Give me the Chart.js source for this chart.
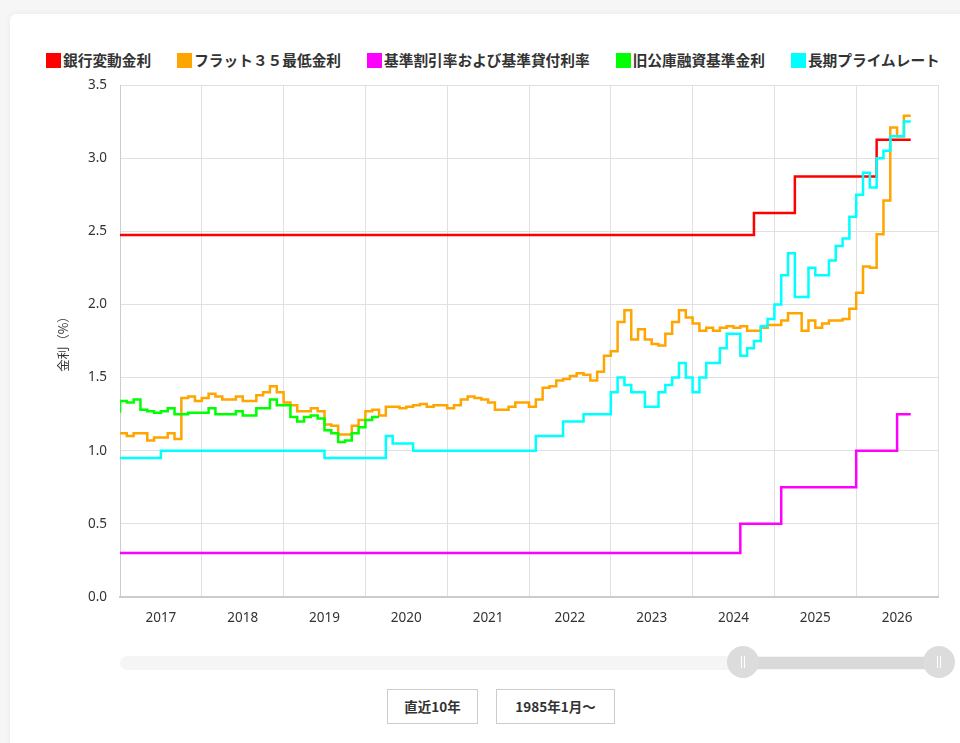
<!DOCTYPE html>
<html lang="ja">

<head>
  <meta charset="UTF-8">
  <title>金利推移</title>
  <style>
    body {
      margin: 0;
      background: #f6f6f6;
      font-family: "Noto Sans", "Noto Sans CJK JP", sans-serif;
      color: #333;
      overflow: hidden;
    }

    .card {
      position: absolute;
      left: 10px;
      top: 14px;
      width: 980px;
      height: 760px;
      background: #fff;
      border-radius: 6px;
      box-shadow: 0 0 6px rgba(0, 0, 0, 0.06);
    }

    #grafico {
      position: absolute;
      left: 0;
      top: 0;
    }

    .legenda {
      position: absolute;
      left: 46px;
      top: 50px;
      display: flex;
      gap: 26px;
      font-family: "Noto Sans CJK JP", sans-serif;
      font-weight: bold;
      font-size: 14.7px;
      line-height: 20px;
      white-space: nowrap;
    }

    .legenda span.caixa {
      display: inline-block;
      width: 15px;
      height: 15px;
      margin-right: 2px;
      vertical-align: -2px;
    }

    .navegador {
      position: absolute;
      left: 120px;
      top: 656px;
      width: 820px;
      height: 14px;
      background: #f5f5f5;
      border-radius: 7px;
    }

    .faixa {
      position: absolute;
      left: 743px;
      top: 657px;
      width: 196px;
      height: 12px;
      background: #d9d9d9;
    }

    .alca {
      position: absolute;
      top: 646px;
      width: 32px;
      height: 32px;
      border-radius: 50%;
      background: #dcdcdc;
    }

    .alca::before,
    .alca::after {
      content: "";
      position: absolute;
      top: 10px;
      width: 1px;
      height: 12px;
      background: #fff;
    }

    .alca::before { left: 14px; }
    .alca::after { left: 17px; }

    .botao {
      position: absolute;
      top: 689px;
      height: 33px;
      border: 1px solid #ccc;
      background: #fff;
      font-family: "Noto Sans CJK JP", sans-serif;
      font-weight: bold;
      font-size: 13.5px;
      line-height: 33px;
      text-align: center;
      color: #333;
    }
  </style>
</head>

<body>
  <div class="card"></div>
  <div class="legenda" id="legenda"></div>
  <canvas id="grafico" width="960" height="640"></canvas>

  <div class="navegador"></div>
  <div class="faixa"></div>
  <div class="alca" style="left: 727px;"></div>
  <div class="alca" style="left: 923px;"></div>

  <div class="botao" style="left: 387px; width: 89px;">直近10年</div>
  <div class="botao" style="left: 496px; width: 117px;">1985年1月〜</div>

  <script src="https://cdn.jsdelivr.net/npm/chart.js"></script>
  <script>
    // meses contados a partir de jan/2017
    const anos = ["2017", "2018", "2019", "2020", "2021", "2022", "2023", "2024", "2025", "2026"];
    const mesFinal = 116;

    const nomes = ["銀行変動金利", "フラット３５最低金利", "基準割引率および基準貸付利率", "旧公庫融資基準金利", "長期プライムレート"];
    const cores = ["#ff0000", "#ffa500", "#ff00ff", "#00ff00", "#00ffff"];

    // 銀行変動金利 (mudancas)
    const bancoMeses = [0, 93, 99, 111];
    const bancoTaxas = [2.475, 2.625, 2.875, 3.125];

    // 基準割引率 (mudancas)
    const bojMeses = [0, 91, 97, 108, 114];
    const bojTaxas = [0.3, 0.5, 0.75, 1.0, 1.25];

    // フラット35 mensal
    const flat35 = [
      1.12, 1.10, 1.12, 1.12, 1.07, 1.09, 1.09, 1.12, 1.08, 1.36, 1.37, 1.34,
      1.36, 1.39, 1.37, 1.35, 1.35, 1.37, 1.34, 1.34, 1.38, 1.40, 1.44, 1.40,
      1.33, 1.31, 1.27, 1.27, 1.29, 1.27, 1.18, 1.17, 1.11, 1.11, 1.17, 1.21,
      1.27, 1.28, 1.24, 1.30, 1.30, 1.29, 1.30, 1.31, 1.32, 1.30, 1.31, 1.31,
      1.29, 1.31, 1.35, 1.37, 1.36, 1.35, 1.33, 1.28, 1.28, 1.30, 1.33, 1.33,
      1.30, 1.35, 1.43, 1.44, 1.48, 1.49, 1.51, 1.53, 1.52, 1.48, 1.54, 1.65,
      1.68, 1.88, 1.96, 1.76, 1.83, 1.76, 1.73, 1.72, 1.80, 1.88, 1.96, 1.91,
      1.87, 1.82, 1.84, 1.82, 1.84, 1.85, 1.84, 1.85, 1.82, 1.82, 1.84, 1.86,
      1.86, 1.89, 1.94, 1.94, 1.82, 1.89, 1.84, 1.87, 1.89, 1.89, 1.90, 1.97,
      2.08, 2.26, 2.25, 2.48, 2.71, 3.21, 3.15, 3.29
    ];

    // 旧公庫 mensal (termina em 2020)
    const koukoInicio = 1.26;
    const kouko = [
      1.34, 1.33, 1.35, 1.28, 1.27, 1.26, 1.27, 1.29, 1.25, 1.25, 1.26, 1.26,
      1.26, 1.29, 1.25, 1.25, 1.25, 1.27, 1.24, 1.24, 1.29, 1.29, 1.35, 1.31,
      1.31, 1.23, 1.20, 1.23, 1.24, 1.22, 1.14, 1.12, 1.06, 1.07, 1.12, 1.16,
      1.21, 1.23
    ];

    // 長期プライムレート mensal
    const longPrime = [
      0.95, 0.95, 0.95, 0.95, 0.95, 0.95, 1.00, 1.00, 1.00, 1.00, 1.00, 1.00,
      1.00, 1.00, 1.00, 1.00, 1.00, 1.00, 1.00, 1.00, 1.00, 1.00, 1.00, 1.00,
      1.00, 1.00, 1.00, 1.00, 1.00, 1.00, 0.95, 0.95, 0.95, 0.95, 0.95, 0.95,
      0.95, 0.95, 0.95, 1.10, 1.05, 1.05, 1.05, 1.00, 1.00, 1.00, 1.00, 1.00,
      1.00, 1.00, 1.00, 1.00, 1.00, 1.00, 1.00, 1.00, 1.00, 1.00, 1.00, 1.00,
      1.00, 1.10, 1.10, 1.10, 1.10, 1.20, 1.20, 1.20, 1.25, 1.25, 1.25, 1.25,
      1.40, 1.50, 1.45, 1.40, 1.40, 1.30, 1.30, 1.40, 1.45, 1.50, 1.60, 1.50,
      1.40, 1.50, 1.60, 1.60, 1.70, 1.80, 1.80, 1.65, 1.70, 1.75, 1.85, 1.90,
      2.00, 2.20, 2.35, 2.05, 2.05, 2.25, 2.20, 2.20, 2.30, 2.40, 2.45, 2.60,
      2.75, 2.90, 2.80, 3.00, 3.05, 3.15, 3.15, 3.25
    ];

    function pontosMudanca(meses, taxas) {
      const pts = meses.map((m, i) => ({ x: m, y: taxas[i] }));
      pts.push({ x: mesFinal, y: taxas[taxas.length - 1] });
      return pts;
    }

    function pontosMensais(taxas, inicio) {
      const pts = [];
      if (inicio !== undefined) pts.push({ x: 0, y: inicio });
      taxas.forEach((t, m) => pts.push({ x: m, y: t }));
      pts.push({ x: taxas.length, y: taxas[taxas.length - 1] });
      return pts;
    }

    const series = [
      pontosMudanca(bancoMeses, bancoTaxas),
      pontosMensais(flat35),
      pontosMudanca(bojMeses, bojTaxas),
      pontosMensais(kouko, koukoInicio),
      pontosMensais(longPrime)
    ];

    // legenda em html
    const legenda = document.getElementById("legenda");
    nomes.forEach((nome, i) => {
      const item = document.createElement("div");
      item.innerHTML = `<span class="caixa" style="background:${cores[i]}"></span>${nome}`;
      legenda.appendChild(item);
    });

    const fonte = "'Noto Sans', 'Noto Sans CJK JP', sans-serif";

    new Chart(document.getElementById("grafico"), {
      type: "line",
      data: {
        datasets: series.map((dados, i) => ({
          label: nomes[i],
          data: dados,
          borderColor: cores[i],
          backgroundColor: cores[i],
          borderWidth: 2.5,
          stepped: "before",
          pointRadius: 0,
          fill: false,
          order: 5 - i
        }))
      },
      options: {
        responsive: false,
        animation: false,
        layout: {
          padding: { top: 85, right: 22, bottom: 0, left: 0 }
        },
        plugins: {
          legend: { display: false },
          tooltip: { enabled: false }
        },
        scales: {
          x: {
            type: "linear",
            min: 0,
            max: 120,
            afterFit: function (scale) { scale.height = 43; },
            border: { color: "#cccccc", width: 2 },
            grid: {
              drawTicks: false,
              color: function (ctx) {
                return ctx.tick && ctx.tick.value % 12 === 0 ? "#e0e0e0" : "rgba(0,0,0,0)";
              }
            },
            ticks: {
              stepSize: 6,
              autoSkip: false,
              maxRotation: 0,
              padding: 13,
              color: "#333",
              font: { family: fonte, size: 13.5 },
              callback: function (v) {
                return v % 12 === 6 ? anos[(v - 6) / 12] : "";
              }
            }
          },
          y: {
            min: 0,
            max: 3.5,
            afterFit: function (scale) { scale.width = 120; },
            border: { color: "#cccccc", width: 1 },
            grid: { drawTicks: false, color: "#e0e0e0" },
            ticks: {
              stepSize: 0.5,
              padding: 13,
              color: "#333",
              font: { family: fonte, size: 13.5 },
              callback: function (v) { return v.toFixed(1); }
            },
            title: {
              display: true,
              text: "金利（%）",
              color: "#333",
              font: { family: "'Noto Sans CJK JP', sans-serif", size: 12.5 },
              padding: { top: 56, bottom: 0 }
            }
          }
        }
      }
    });
  </script>
</body>

</html>
